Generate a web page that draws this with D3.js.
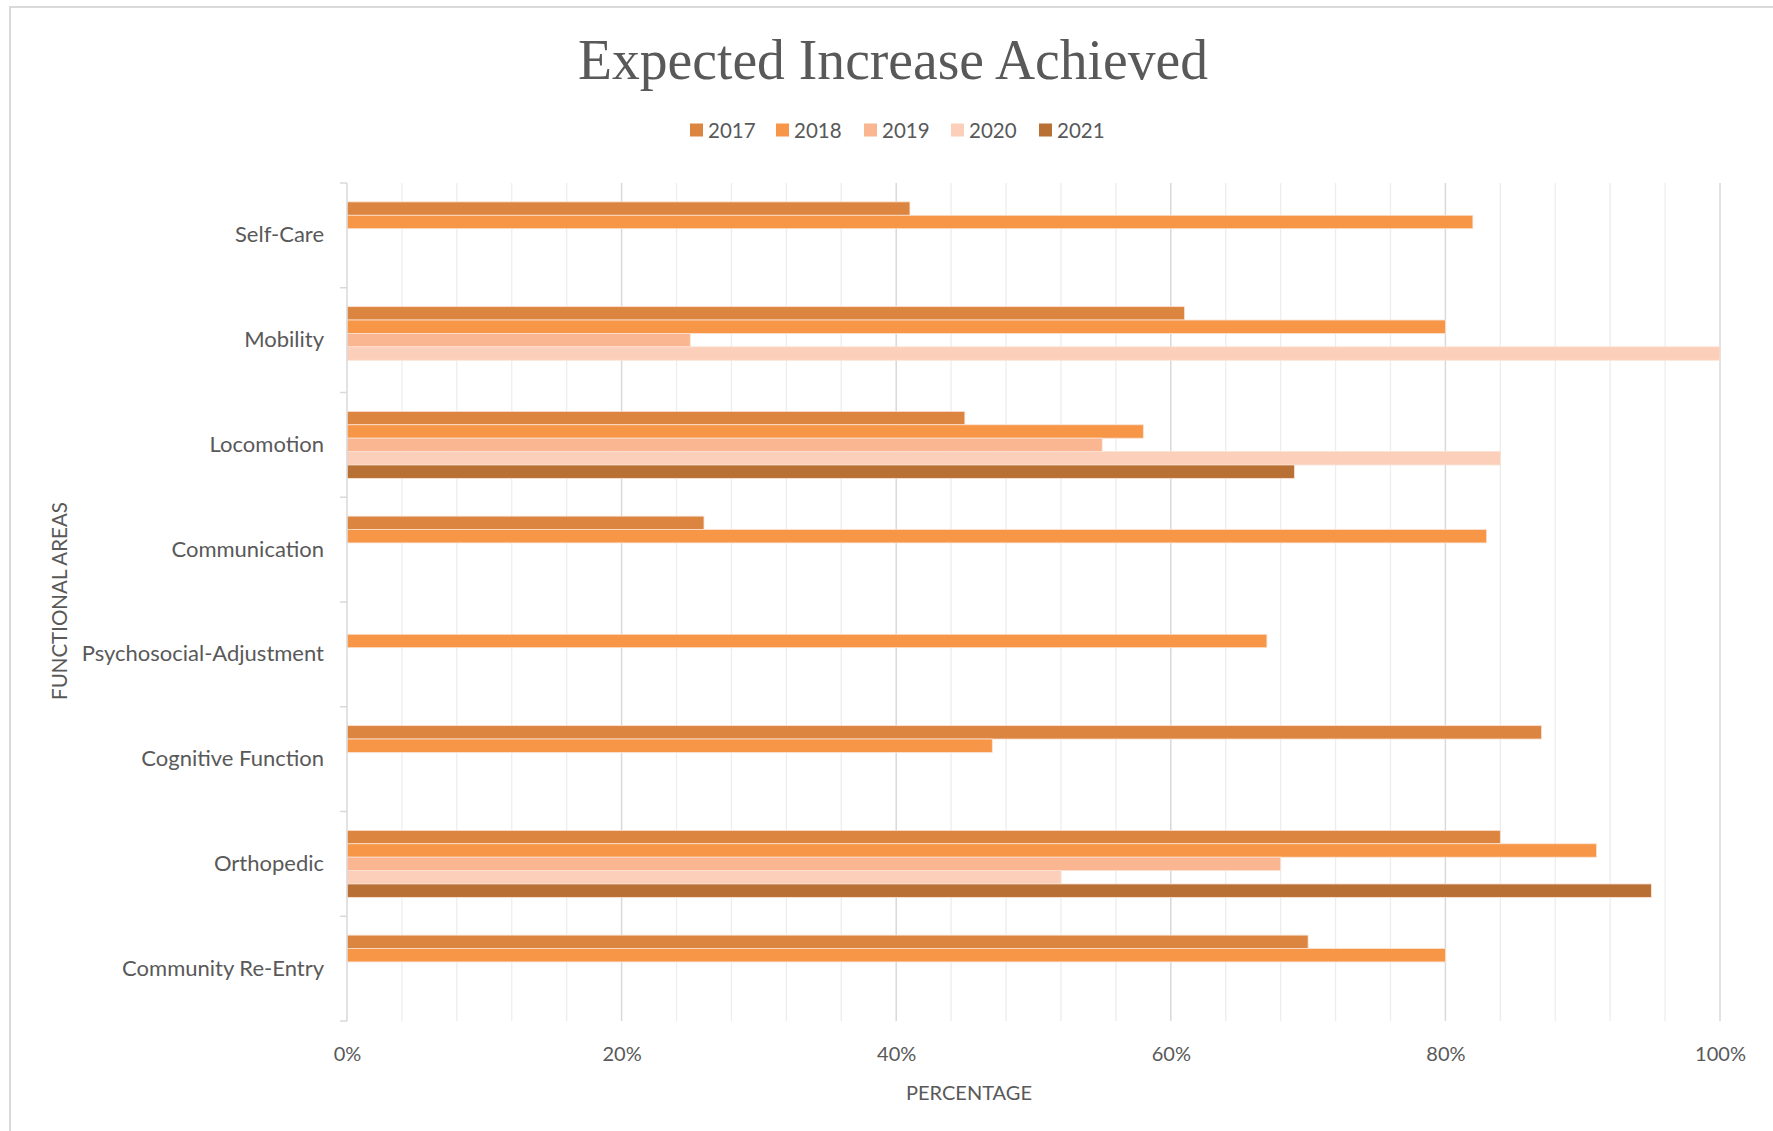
<!DOCTYPE html>
<html>
<head>
<meta charset="utf-8">
<script src="https://cdn.jsdelivr.net/npm/d3@7"></script>
<style>
  html, body { margin: 0; padding: 0; background: #fff; }
  svg { display: block; }
</style>
</head>
<body>
<svg id="chart" width="1773" height="1131"></svg>
<script>
// Functional areas, top to bottom
const categories = [
  "Self-Care", "Mobility", "Locomotion", "Communication",
  "Psychosocial-Adjustment", "Cognitive Function", "Orthopedic", "Community Re-Entry"
];
const years = ["2017", "2018", "2019", "2020", "2021"];

// Percentage of expected increase achieved (null = no bar)
const v2017 = [41, 61, 45, 26, null, 87, 84, 70];
const v2018 = [82, 80, 58, 83, 67, 47, 91, 80];
const v2019 = [null, 25, 55, null, null, null, 68, null];
const v2020 = [null, 100, 84, null, null, null, 52, null];
const v2021 = [null, null, 69, null, null, null, 95, null];

const xTicks = [0, 20, 40, 60, 80, 100];
const yearColors = ["#DC8541", "#F79646", "#F9B691", "#FBCFBA", "#B87034"];

const seriesValues = [v2017, v2018, v2019, v2020, v2021];

const svg = d3.select("#chart");
const W = 1773, H = 1131;
const plot = { left: 347, right: 1720, top: 183, bottom: 1021 };
const textColor = "#595959";
const font = "Lato, 'Open Sans', sans-serif";

// Chart area border (open at right and bottom edges)
svg.append("rect")
  .attr("x", 10).attr("y", 7)
  .attr("width", W).attr("height", H)
  .attr("fill", "#fff")
  .attr("stroke", "#d9d9d9").attr("stroke-width", 2);

const x = d3.scaleLinear().domain([0, 100]).range([plot.left, plot.right]);
const y = d3.scaleBand().domain(categories).range([plot.top, plot.bottom]).padding(0);
const ySub = d3.scaleBand().domain(years).range([0, y.bandwidth()])
  .paddingInner(0).paddingOuter(1.41);
const color = d3.scaleOrdinal().domain(years).range(yearColors);

// Minor gridlines every 4%, major every 20%
const grid = svg.append("g");
grid.selectAll("line.minor")
  .data(d3.range(4, 100, 4).filter(v => v % 20 !== 0))
  .join("line")
  .attr("x1", d => x(d)).attr("x2", d => x(d))
  .attr("y1", plot.top).attr("y2", plot.bottom)
  .attr("stroke", "#ededed").attr("stroke-width", 1.3);
grid.selectAll("line.major")
  .data(xTicks.filter(v => v > 0))
  .join("line")
  .attr("x1", d => x(d)).attr("x2", d => x(d))
  .attr("y1", plot.top).attr("y2", plot.bottom)
  .attr("stroke", "#d9d9d9").attr("stroke-width", 1.5);

// Bars
const rows = [];
categories.forEach((c, i) => {
  years.forEach((yr, j) => {
    const v = seriesValues[j][i];
    if (v != null) rows.push({ cat: c, year: yr, value: v });
  });
});
svg.append("g").selectAll("rect")
  .data(rows)
  .join("rect")
  .attr("x", x(0))
  .attr("y", d => y(d.cat) + ySub(d.year))
  .attr("width", d => x(d.value) - x(0))
  .attr("height", ySub.bandwidth())
  .attr("fill", d => color(d.year))
  .attr("stroke", "#fbe2d2").attr("stroke-width", 0.8);

// Category axis line and tick marks at band boundaries
svg.append("line")
  .attr("x1", plot.left).attr("x2", plot.left)
  .attr("y1", plot.top).attr("y2", plot.bottom)
  .attr("stroke", "#d9d9d9").attr("stroke-width", 1.5);
svg.append("g").selectAll("line")
  .data(d3.range(categories.length + 1))
  .join("line")
  .attr("x1", plot.left - 7).attr("x2", plot.left)
  .attr("y1", i => plot.top + i * y.step())
  .attr("y2", i => plot.top + i * y.step())
  .attr("stroke", "#d9d9d9").attr("stroke-width", 1.5);

// Category labels
svg.append("g").selectAll("text")
  .data(categories)
  .join("text")
  .attr("x", 324)
  .attr("y", d => y(d) + y.bandwidth() / 2 - 1.5)
  .attr("text-anchor", "end")
  .attr("dominant-baseline", "central")
  .attr("font-family", font).attr("font-size", 22)
  .attr("fill", textColor)
  .text(d => d);

// Value axis labels
const xAxis = d3.axisBottom(x).tickValues(xTicks).tickFormat(d => d + "%").tickSize(0);
const gx = svg.append("g").attr("transform", `translate(0, ${plot.bottom})`).call(xAxis);
gx.select(".domain").remove();
gx.selectAll("text")
  .attr("dy", null).attr("y", 32)
  .attr("dominant-baseline", "central")
  .attr("font-family", font).attr("font-size", 20)
  .attr("fill", textColor);

// Axis titles
svg.append("text")
  .attr("x", 969).attr("y", 1092)
  .attr("text-anchor", "middle").attr("dominant-baseline", "central")
  .attr("font-family", font).attr("font-size", 20)
  .attr("fill", textColor)
  .text("PERCENTAGE");
svg.append("text")
  .attr("transform", "translate(59, 601) rotate(-90)")
  .attr("text-anchor", "middle").attr("dominant-baseline", "central")
  .attr("font-family", font).attr("font-size", 20.5)
  .attr("fill", textColor)
  .text("FUNCTIONAL AREAS");

// Title
svg.append("text")
  .attr("x", 893).attr("y", 79)
  .attr("text-anchor", "middle")
  .attr("font-family", "'Liberation Serif', 'DejaVu Serif', serif")
  .attr("font-size", 57)
  .attr("textLength", 630).attr("lengthAdjust", "spacingAndGlyphs")
  .attr("fill", textColor)
  .text("Expected Increase Achieved");

// Legend
const legendX = [690, 776, 864, 951, 1039];
const legend = svg.append("g").selectAll("g")
  .data(years)
  .join("g")
  .attr("transform", (d, i) => `translate(${legendX[i]}, 130)`);
legend.append("rect")
  .attr("x", 0).attr("y", -6.5)
  .attr("width", 13).attr("height", 13)
  .attr("fill", d => color(d));
legend.append("text")
  .attr("x", 18).attr("y", 0)
  .attr("dominant-baseline", "central")
  .attr("font-family", font).attr("font-size", 20.5)
  .attr("fill", textColor)
  .text(d => d);
</script>
</body>
</html>
